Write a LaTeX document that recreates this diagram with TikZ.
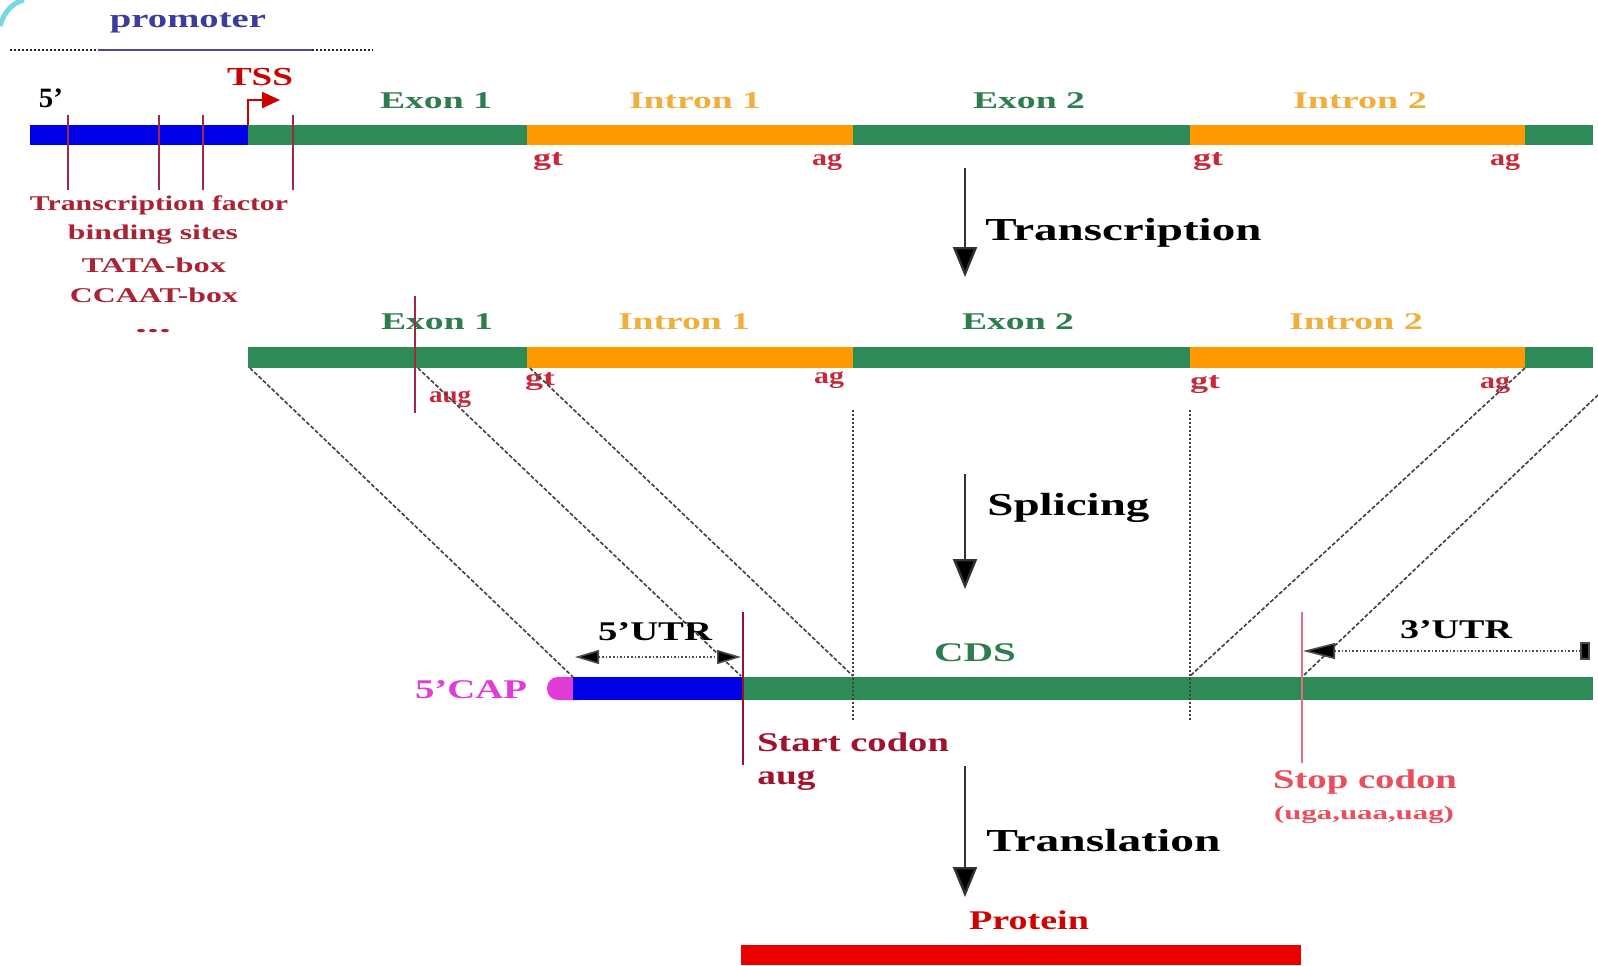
\documentclass[tikz,border=0pt]{standalone}
\usepackage{fontspec}
\setmainfont{Liberation Serif}
\usepackage{graphicx}
\usetikzlibrary{arrows.meta}

% horizontally stretched label: width given, natural height kept
\newcommand{\wtext}[2]{\resizebox{#1}{\height}{#2}}

\definecolor{exgreen}{RGB}{46,139,87}
\definecolor{exlabel}{RGB}{46,125,78}
\definecolor{inorange}{RGB}{255,153,0}
\definecolor{inlabel}{RGB}{240,175,60}
\definecolor{utrblue}{RGB}{0,0,230}
\definecolor{siteRed}{RGB}{200,40,60}
\definecolor{tickRed}{RGB}{160,40,70}
\definecolor{startRed}{RGB}{150,20,50}
\definecolor{stopRed}{RGB}{225,110,130}
\definecolor{capMag}{RGB}{225,60,215}
\definecolor{promBlue}{RGB}{60,60,156}
\definecolor{protRed}{RGB}{235,0,0}
\definecolor{corner}{RGB}{60,200,210}

\begin{document}
\begin{tikzpicture}[x=0.5pt,y=-0.5pt,
  every node/.style={inner sep=0pt},
  big/.style={font=\bfseries\fontsize{16}{16}\selectfont, text=black},
  exlbl/.style={font=\bfseries\fontsize{12}{12}\selectfont, text=exlabel},
  inlbl/.style={font=\bfseries\fontsize{12}{12}\selectfont, text=inlabel},
  site/.style={font=\bfseries\fontsize{11.5}{11.5}\selectfont, text=siteRed},
  tfbs/.style={font=\bfseries\fontsize{10.5}{10.5}\selectfont, text=siteRed!85!black},
  mid/.style={font=\bfseries\fontsize{13.5}{13.5}\selectfont},
  tick/.style={draw=tickRed, line width=1pt},
  stage/.style={draw=gray!40!black, line width=1.2pt, -{Triangle[width=12pt,length=15pt,fill=black]}},
  guide/.style={draw=gray!50!black, line width=0.8pt, dash pattern=on 2pt off 1pt},
  junction/.style={draw=gray!50!black, line width=1pt, densely dotted},
  utr/.style={draw=gray!60!black, line width=0.8pt, densely dotted}]

\useasboundingbox (0,0) rectangle (1598,965);
\fill[white] (0,0) rectangle (1598,965);

% slide corner flourish
\draw[corner!70, line width=2.5pt] (0,26) .. controls (4,12) and (12,3) .. (24,0);

% ---------- promoter bracket ----------
\node[font=\bfseries\fontsize{13}{13}\selectfont, text=promBlue] (prom) at (188,23) {\wtext{78pt}{promoter}};
\coordinate (pa) at (10,50);  \coordinate (pb) at (98,50);
\coordinate (pc) at (312,50); \coordinate (pd) at (373,50);
\draw[gray!30!black, line width=1pt, densely dotted] (pa) -- (pb);
\draw[promBlue!80!gray, line width=1.2pt] (pb) -- (pc);
\draw[gray!30!black, line width=1pt, densely dotted] (pc) -- (pd);

% ---------- gene (row 1) ----------
\fill[utrblue] (30,125) rectangle (248,145);
\fill[exgreen] (248,125) rectangle (527,145);
\fill[inorange] (527,125) rectangle (853,145);
\fill[exgreen] (853,125) rectangle (1190,145);
\fill[inorange] (1190,125) rectangle (1525,145);
\fill[exgreen] (1525,125) rectangle (1593,145);

\node[font=\bfseries\fontsize{14}{14}\selectfont] (five) at (51,98) {\wtext{12pt}{5’}};
\node[font=\bfseries\fontsize{13}{13}\selectfont, text=red!80!black] (tss) at (260,77) {\wtext{33pt}{TSS}};
\coordinate (tssA) at (248,125); \coordinate (tssB) at (248,100); \coordinate (tssC) at (280,100);
\draw[red!80!black, line width=1.2pt, -{Triangle[width=8pt,length=9pt]}] (tssA) -- (tssB) -- (tssC);

\foreach \x [count=\i] in {68,159,203,293}{
  \coordinate (tfT\i) at (\x,115); \coordinate (tfB\i) at (\x,190);
  \draw[tick] (tfT\i) -- (tfB\i);
}

\node[tfbs] (tf1) at (159,205) {\wtext{129pt}{Transcription factor}};
\node[tfbs] (tf2) at (153,235) {\wtext{85pt}{binding sites}};
\node[tfbs] (tf3) at (154,265) {\wtext{72pt}{TATA-box}};
\node[tfbs] (tf4) at (154,295) {\wtext{84pt}{CCAAT-box}};
\node[tfbs] (tf5) at (153,331) {\wtext{18pt}{...}};

\node[exlbl] (ex1a) at (436,101) {\wtext{56pt}{Exon 1}};
\node[inlbl] (in1a) at (695,101) {\wtext{66pt}{Intron 1}};
\node[exlbl] (ex2a) at (1029,101) {\wtext{56pt}{Exon 2}};
\node[inlbl] (in2a) at (1360,101) {\wtext{67pt}{Intron 2}};

\node[site] (gt1a) at (548,162) {\wtext{15pt}{gt}};
\node[site] (ag1a) at (827,162) {\wtext{15pt}{ag}};
\node[site] (gt2a) at (1208,162) {\wtext{15pt}{gt}};
\node[site] (ag2a) at (1505,162) {\wtext{15pt}{ag}};

% ---------- transcription ----------
\coordinate (tr1) at (965,168); \coordinate (tr2) at (965,277);
\draw[stage] (tr1) -- (tr2);
\node[big, anchor=west] (trl) at (985,233) {\wtext{138pt}{Transcription}};

% ---------- pre-mRNA (row 2) ----------
\fill[exgreen] (248,347) rectangle (527,368);
\fill[inorange] (527,347) rectangle (853,368);
\fill[exgreen] (853,347) rectangle (1190,368);
\fill[inorange] (1190,347) rectangle (1525,368);
\fill[exgreen] (1525,347) rectangle (1593,368);

\node[exlbl] (ex1b) at (437,322) {\wtext{56pt}{Exon 1}};
\node[inlbl] (in1b) at (684,322) {\wtext{66pt}{Intron 1}};
\node[exlbl] (ex2b) at (1018,322) {\wtext{56pt}{Exon 2}};
\node[inlbl] (in2b) at (1356,322) {\wtext{67pt}{Intron 2}};

\coordinate (augT) at (415,296); \coordinate (augB) at (415,413);
\draw[tick] (augT) -- (augB);
\node[site] (aug1) at (450,399) {\wtext{21pt}{aug}};
\node[site] (gt1b) at (540,382) {\wtext{15pt}{gt}};
\node[site] (ag1b) at (829,380) {\wtext{15pt}{ag}};
\node[site] (gt2b) at (1205,385) {\wtext{15pt}{gt}};
\node[site] (ag2b) at (1495,385) {\wtext{15pt}{ag}};

% ---------- splicing ----------
\coordinate (sp1) at (965,474); \coordinate (sp2) at (965,589);
\draw[stage] (sp1) -- (sp2);
\node[big, anchor=west] (spl) at (987,508) {\wtext{81pt}{Splicing}};

% ---------- mature mRNA (row 3) ----------
\fill[capMag, rounded corners=5.5pt] (547,677) rectangle (590,700);
\fill[utrblue] (573,677) rectangle (743,700);
\fill[exgreen] (743,677) rectangle (1593,700);
\node[mid, text=capMag] (cap) at (471,690) {\wtext{56pt}{5’CAP}};

% correspondence lines between pre-mRNA and mRNA
\coordinate (d1a) at (250,368);  \coordinate (d1b) at (573,677);
\coordinate (d2a) at (418,368);  \coordinate (d2b) at (741,676);
\coordinate (d3a) at (530,368);  \coordinate (d3b) at (853,676);
\coordinate (d4a) at (1525,368); \coordinate (d4b) at (1190,676);
\coordinate (d5a) at (1598,395); \coordinate (d5b) at (1303,676);
\foreach \i in {1,...,5}{ \draw[guide] (d\i a) -- (d\i b); }

\coordinate (j1a) at (853,410);  \coordinate (j1b) at (853,722);
\coordinate (j2a) at (1190,410); \coordinate (j2b) at (1190,722);
\draw[junction] (j1a) -- (j1b);
\draw[junction] (j2a) -- (j2b);

% codons
\coordinate (stT) at (743,612); \coordinate (stB) at (743,765);
\draw[draw=startRed, line width=1.2pt] (stT) -- (stB);
\coordinate (spT) at (1302,612); \coordinate (spB) at (1302,763);
\draw[draw=stopRed, line width=1.2pt] (spT) -- (spB);

\node[mid, text=startRed!90!red] (stc) at (853,742) {\wtext{96pt}{Start codon}};
\node[mid, text=startRed!90!red, anchor=west] (aug2) at (757,781) {\wtext{29pt}{aug}};
\node[mid, text=stopRed!70!red] (spc) at (1365,782) {\wtext{92pt}{Stop codon}};
\node[font=\bfseries\fontsize{9.5}{9.5}\selectfont, text=stopRed!70!red] (stops) at (1364,815) {\wtext{90pt}{(uga,uaa,uag)}};

% UTR extents
\coordinate (u5a) at (575,657); \coordinate (u5b) at (741,657);
\draw[utr, {Triangle[width=7pt,length=12pt,fill=black]}-{Triangle[width=7pt,length=12pt,fill=black]}] (u5a) -- (u5b);
\node[mid] (u5) at (655,632) {\wtext{57pt}{5’UTR}};

\coordinate (u3a) at (1590,651); \coordinate (u3b) at (1303,651);
\draw[utr, {Square[length=5pt,width=9pt,fill=black]}-{Triangle[width=8pt,length=16pt,fill=black]}] (u3a) -- (u3b);
\node[mid] (u3) at (1456,630) {\wtext{56pt}{3’UTR}};

\node[mid, text=exlabel] (cds) at (975,653) {\wtext{41pt}{CDS}};

% ---------- translation ----------
\coordinate (tl1) at (965,766); \coordinate (tl2) at (965,897);
\draw[stage] (tl1) -- (tl2);
\node[big, anchor=west] (tll) at (986,841) {\wtext{117pt}{Translation}};

\node[mid, text=protRed!90!black] (prot) at (1029,920) {\wtext{60pt}{Protein}};
\fill[protRed] (741,945) rectangle (1301,965);

\end{tikzpicture}
\end{document}
